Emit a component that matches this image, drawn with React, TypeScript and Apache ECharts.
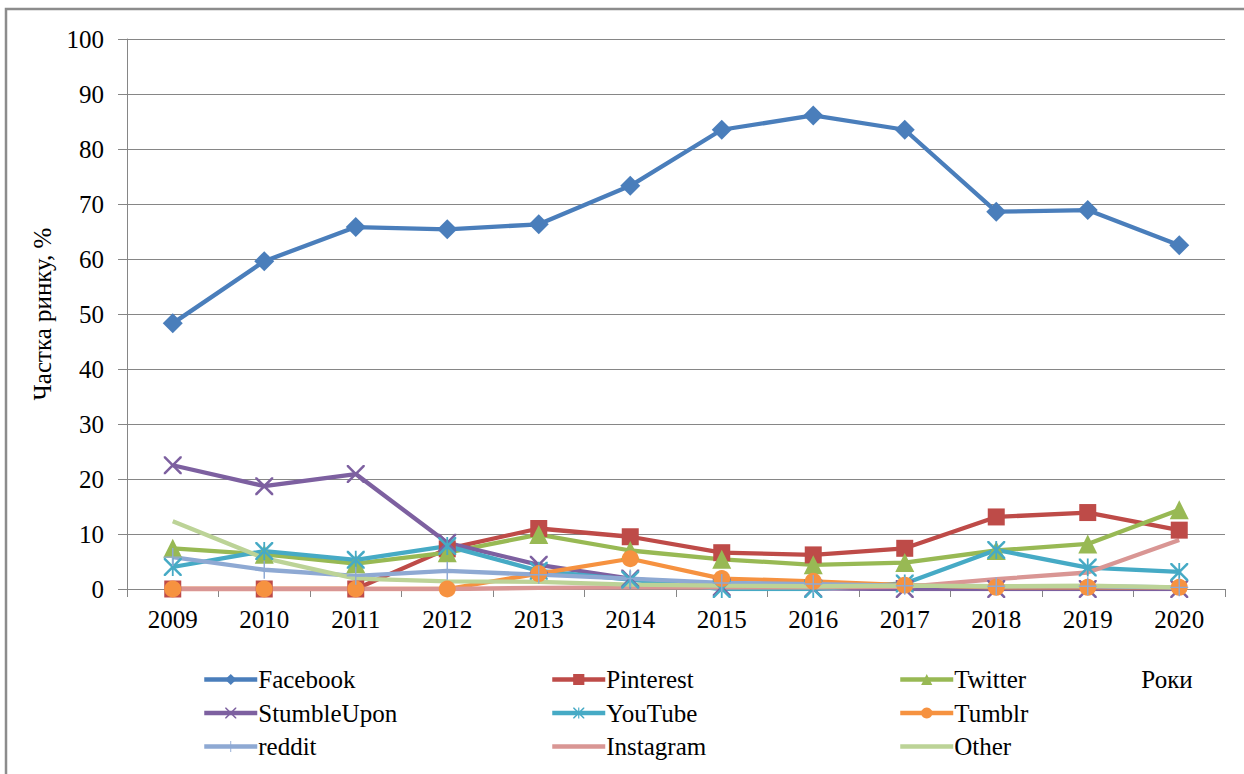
import React, { useEffect, useRef } from "react";
import * as echarts from "echarts";

const years = ["2009", "2010", "2011", "2012", "2013", "2014", "2015", "2016", "2017", "2018", "2019", "2020"];
const facebook = [48.3, 59.6, 65.8, 65.4, 66.3, 73.3, 83.5, 86.1, 83.5, 68.6, 68.9, 62.5];
const pinterest = [0, 0, 0, 7.3, 11.0, 9.5, 6.6, 6.2, 7.4, 13.1, 13.9, 10.7];
const twitter = [7.4, 6.3, 4.6, 6.6, 9.9, 7.0, 5.4, 4.4, 4.8, 7.0, 8.2, 14.4];
const stumbleUpon = [22.5, 18.7, 20.9, 8.4, 4.4, 1.9, 0.3, 0.1, 0, 0, 0, 0];
const youTube = [4.0, 6.9, 5.3, 7.8, 3.3, 1.7, 0, 0, 1.0, 7.1, 3.9, 3.1];
const tumblr = [0, 0, 0, 0, 2.8, 5.5, 1.9, 1.4, 0.7, 0.3, 0.3, 0.3];
const reddit = [5.8, 3.5, 2.4, 3.3, 2.6, 1.9, 1.1, 0.9, 0.6, 0.5, 0.5, 0.3];
const instagram = [0, 0, 0, 0, 0.2, 0.3, 0.3, 0.3, 0.4, 1.8, 3.0, 8.9];
const other = [12.3, 5.6, 1.9, 1.4, 1.3, 0.8, 0.6, 0.5, 0.6, 0.5, 0.6, 0.3];

const yTicks = { min: 0, max: 100, interval: 10 };

const FONT = "'Liberation Serif', 'Times New Roman', serif";

const X_PATH = "path://M0,0 L2,0 L10,8 L18,0 L20,0 L20,2 L12,10 L20,18 L20,20 L18,20 L10,12 L2,20 L0,20 L0,18 L8,10 L0,2 Z";
const STAR_PATH = "path://M0,0 L2,0 L10,8 L18,0 L20,0 L20,2 L12,10 L20,18 L20,20 L18,20 L10,12 L2,20 L0,20 L0,18 L8,10 L0,2 Z M9,0 L11,0 L11,20 L9,20 Z";
const PLUS_PATH = "path://M9.2,0 L10.8,0 L10.8,9.2 L20,9.2 L20,10.8 L10.8,10.8 L10.8,20 L9.2,20 L9.2,10.8 L0,10.8 L0,9.2 L9.2,9.2 Z";
const LINE_ICON = "path://M0,0 L0.01,0 L0,0.01 Z M0,4.8 L53,4.8 L53,9.2 L0,9.2 Z M0,14 L0.01,14 L0,13.99 Z";

type S = { name: string; data: number[]; color: string; symbol: string; size: number };

const seriesDefs: S[] = [
  { name: "Facebook", data: facebook, color: "#4A7EBB", symbol: "diamond", size: 20 },
  { name: "Pinterest", data: pinterest, color: "#BE4B48", symbol: "rect", size: 17 },
  { name: "Twitter", data: twitter, color: "#98B954", symbol: "triangle", size: 19 },
  { name: "StumbleUpon", data: stumbleUpon, color: "#7D60A0", symbol: X_PATH, size: 18 },
  { name: "YouTube", data: youTube, color: "#46AAC5", symbol: STAR_PATH, size: 18 },
  { name: "Tumblr", data: tumblr, color: "#F69240", symbol: "circle", size: 17 },
  { name: "reddit", data: reddit, color: "#8EA9D3", symbol: PLUS_PATH, size: 18 },
  { name: "Instagram", data: instagram, color: "#D99694", symbol: "none", size: 0 },
  { name: "Other", data: other, color: "#BCD397", symbol: "none", size: 0 },
];

export default function App() {
  const ref = useRef<HTMLDivElement>(null);
  useEffect(() => {
    if (!ref.current) return;
    const chart = echarts.init(ref.current, null, { renderer: "svg" });
    const cols = [
      ["Facebook", "StumbleUpon", "reddit"],
      ["Pinterest", "YouTube", "Instagram"],
      ["Twitter", "Tumblr", "Other"],
    ];
    const lefts = [197, 545, 893];
    const noMarker = new Set(seriesDefs.filter((s) => s.symbol === "none").map((s) => s.name));
    chart.setOption({
      animation: false,
      backgroundColor: "#ffffff",
      textStyle: { fontFamily: FONT, color: "#000" },
      grid: { left: 127, right: 19, top: 39, bottom: 185, containLabel: false },
      legend: cols.map((c, i) => ({
        data: c.map((n) => (noMarker.has(n) ? { name: n, icon: LINE_ICON } : { name: n })),
        orient: "vertical",
        left: lefts[i],
        top: 662,
        itemWidth: 53,
        itemHeight: 14,
        itemGap: 8.5,
        lineStyle: { width: 4.5 },
        textStyle: { fontFamily: FONT, fontSize: 25, color: "#000", lineHeight: 25, padding: [0, 0, 0, -4] },
        selectedMode: false,
      })),
      xAxis: {
        type: "category",
        data: years,
        boundaryGap: true,
        axisLine: { lineStyle: { color: "#868686", width: 1 } },
        axisTick: { show: true, length: 8, lineStyle: { color: "#868686" } },
        axisLabel: { fontFamily: FONT, fontSize: 25, color: "#000", margin: 18 },
        splitLine: { show: false },
      },
      yAxis: {
        type: "value",
        min: yTicks.min,
        max: yTicks.max,
        interval: yTicks.interval,
        name: "Частка ринку, %",
        nameLocation: "middle",
        nameGap: 72,
        nameRotate: 90,
        nameTextStyle: { fontFamily: FONT, fontSize: 25, color: "#000", padding: [0, 0, 0, 0] },
        axisLine: { show: true, lineStyle: { color: "#868686", width: 1 } },
        axisTick: { show: true, length: 9, lineStyle: { color: "#868686" } },
        axisLabel: { fontFamily: FONT, fontSize: 25, color: "#000", margin: 23 },
        splitLine: { show: true, lineStyle: { color: "#868686", width: 1 } },
      },
      graphic: [
        {
          type: "rect",
          shape: { x: 6, y: 9, width: 1400, height: 1000 },
          style: { fill: "none", stroke: "#8C8C8C", lineWidth: 2.5 },
          silent: true,
          z: 100,
        },
        {
          type: "text",
          x: 1167,
          y: 679,
          style: { text: "Роки", font: `25px ${FONT}`, fill: "#000", textAlign: "center", textVerticalAlign: "middle" },
        },
      ],
      series: seriesDefs.map((s) => ({
        name: s.name,
        type: "line",
        data: s.data,
        color: s.color,
        symbol: s.symbol,
        symbolSize: s.size,
        showSymbol: s.symbol !== "none",
        lineStyle: { color: s.color, width: 4.3 },
        itemStyle: { color: s.color },
        emphasis: { disabled: true },
      })),
    });
    return () => chart.dispose();
  }, []);
  return <div ref={ref} style={{ position: "fixed", left: 0, top: 0, width: 1244, height: 774 }} />;
}
